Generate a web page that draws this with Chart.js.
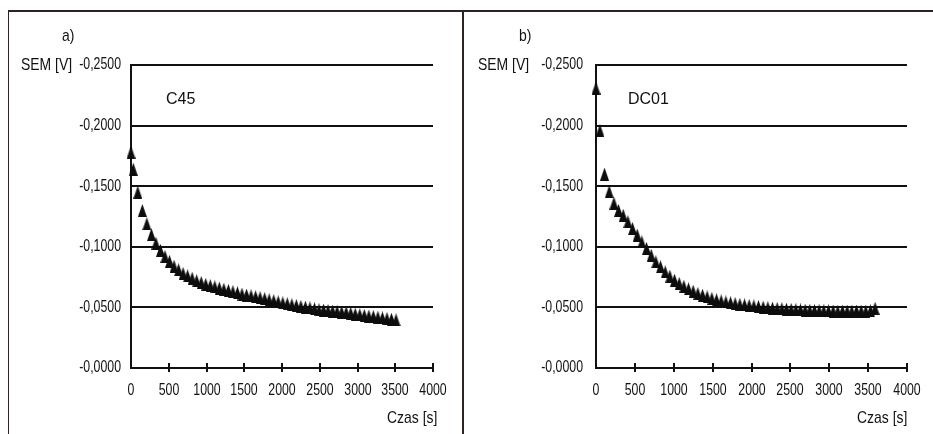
<!DOCTYPE html>
<html>
<head>
<meta charset="utf-8">
<script src="https://cdn.jsdelivr.net/npm/chart.js@4/dist/chart.umd.min.js"></script>
<style>
  html, body { margin: 0; padding: 0; background: #fff; }
  #page { position: relative; width: 933px; height: 434px; overflow: hidden; background: #fff; }
  canvas { position: absolute; top: 0; }
  .rule { position: absolute; background: #2e2320; }
  /* Arial Narrow look: squeeze Liberation Sans */
  .lbl { position: absolute; color: #111; line-height: 1; white-space: nowrap;
         font-family: 'Liberation Sans', Arial, sans-serif; font-size: 17px;
         transform: translateY(-50%) scaleX(0.82); transform-origin: left center; }
  .lbl.r { transform-origin: right center; }
  .name { font-size: 16px; transform: translateY(-50%); }
</style>
</head>
<body>
<div id="page">
  <div class="rule" style="left:8px; top:10px; width:925px; height:2px;"></div>
  <div class="rule" style="left:8px; top:10px; width:1px; height:424px;"></div>
  <div class="rule" style="left:462px; top:10px; width:2px; height:424px;"></div>

  <canvas id="chartA" width="461" height="434" style="left:0px;"></canvas>
  <canvas id="chartB" width="467" height="434" style="left:466px;"></canvas>

  <div class="lbl" style="left:62px; top:35px;">a)</div>
  <div class="lbl" style="left:21px; top:64px;">SEM [V]</div>
  <div class="lbl name" style="left:166px; top:99px;">C45</div>
  <div class="lbl r" style="right:496px; top:417px;">Czas [s]</div>

  <div class="lbl" style="left:519px; top:35px;">b)</div>
  <div class="lbl" style="left:478px; top:64px;">SEM [V]</div>
  <div class="lbl name" style="left:628px; top:99px;">DC01</div>
  <div class="lbl r" style="right:26px; top:417px;">Czas [s]</div>
</div>

<script>
// a) C45 - time [s] and SEM [V]
const c45Time = [0, 30, 90, 150, 210, 270, 330, 390, 450, 510, 570, 630, 690, 750, 810, 870,
  930, 990, 1050, 1110, 1170, 1230, 1290, 1350, 1410, 1470, 1530, 1590, 1650, 1710, 1770,
  1830, 1890, 1950, 2010, 2070, 2130, 2190, 2250, 2310, 2370, 2430, 2490, 2550, 2610, 2670,
  2730, 2790, 2850, 2910, 2970, 3030, 3090, 3150, 3210, 3270, 3330, 3390, 3450, 3510];
const c45Sem = [-0.178, -0.164, -0.145, -0.130, -0.119, -0.110, -0.103, -0.097, -0.092, -0.088,
  -0.084, -0.081, -0.078, -0.076, -0.074, -0.072, -0.0705, -0.069, -0.068, -0.067, -0.066,
  -0.065, -0.064, -0.063, -0.062, -0.061, -0.0602, -0.0595, -0.0587, -0.058, -0.0572, -0.0563,
  -0.0555, -0.0546, -0.0537, -0.053, -0.0522, -0.0515, -0.0508, -0.0502, -0.0496, -0.0488,
  -0.0481, -0.0478, -0.0474, -0.047, -0.0466, -0.0462, -0.0458, -0.0452, -0.0445, -0.0439,
  -0.0434, -0.0429, -0.0424, -0.0419, -0.0413, -0.0408, -0.0402, -0.0397];

// b) DC01
const dc01Time = [0, 50, 110, 170, 230, 290, 350, 410, 470, 530, 590, 650, 710, 770, 830, 890,
  950, 1010, 1070, 1130, 1190, 1250, 1310, 1370, 1430, 1490, 1550, 1610, 1670, 1730, 1790,
  1850, 1910, 1970, 2030, 2090, 2150, 2210, 2270, 2330, 2390, 2450, 2510, 2570, 2630, 2690,
  2750, 2810, 2870, 2930, 2990, 3050, 3110, 3170, 3230, 3290, 3350, 3410, 3470, 3530, 3590];
const dc01Sem = [-0.231, -0.196, -0.160, -0.1455, -0.136, -0.130, -0.126, -0.1207, -0.115,
  -0.1097, -0.104, -0.0987, -0.093, -0.0876, -0.0835, -0.0793, -0.0758, -0.0725, -0.0698,
  -0.0675, -0.0653, -0.0634, -0.0615, -0.0601, -0.0587, -0.0574, -0.0562, -0.0553, -0.0545,
  -0.0538, -0.0531, -0.0525, -0.052, -0.0516, -0.0512, -0.0507, -0.0502, -0.0498, -0.0494,
  -0.0491, -0.0488, -0.0485, -0.0483, -0.0481, -0.0479, -0.0477, -0.0476, -0.0474, -0.0473,
  -0.0472, -0.0471, -0.047, -0.0468, -0.047, -0.047, -0.0469, -0.047, -0.047, -0.0469,
  -0.0472, -0.0492];

const INK = '#111';
const FONT = '16px "Liberation Sans", Arial, sans-serif';
const SQUEEZE = 0.77;

// tall narrow filled triangle used as point marker
function triangle(w, h) {
  const c = document.createElement('canvas');
  c.width = w;
  c.height = h;
  const g = c.getContext('2d');
  g.fillStyle = '#0d0d0d';
  g.beginPath();
  g.moveTo(w / 2, 0);
  g.lineTo(w, h);
  g.lineTo(0, h);
  g.closePath();
  g.fill();
  return c;
}
const marker = triangle(9, 13);

const semLabel = v => (v < 1e-9 ? '-' : '') + Math.abs(v).toFixed(4).replace('.', ',');

function squeezed(ctx, text, x, y, align) {
  ctx.save();
  ctx.translate(x, y);
  ctx.scale(SQUEEZE, 1);
  ctx.textAlign = align;
  ctx.fillText(text, 0, 0);
  ctx.restore();
}

// tick labels in a narrow face, plus short tick marks crossing the time axis
const axisDecor = {
  id: 'axisDecor',
  afterDraw(chart, args, opts) {
    const xs = chart.scales.x;
    const ys = chart.scales.y;
    const y0 = chart.chartArea.bottom;
    const ctx = chart.ctx;
    ctx.save();
    ctx.strokeStyle = INK;
    ctx.fillStyle = INK;
    ctx.lineWidth = 2;
    ctx.font = FONT;
    ctx.textBaseline = 'middle';
    xs.ticks.forEach(t => {
      const px = Math.round(xs.getPixelForValue(t.value));
      if (t.value !== 0) {
        ctx.beginPath();
        ctx.moveTo(px, y0 - 5);
        ctx.lineTo(px, y0 + 4);
        ctx.stroke();
      }
      squeezed(ctx, String(t.value), px, y0 + 23, 'center');
    });
    ys.ticks.forEach(t => {
      squeezed(ctx, semLabel(t.value), ys.right - opts.gap, ys.getPixelForValue(t.value), 'right');
    });
    ctx.restore();
  }
};

function makeChart(id, times, sem, axisLeft, axisRight, labelGap) {
  const canvas = document.getElementById(id);
  return new Chart(canvas, {
    type: 'scatter',
    data: {
      datasets: [{
        data: times.map((t, i) => ({ x: t, y: sem[i] })),
        pointStyle: marker,
        pointRadius: 5,
        showLine: false,
        clip: false
      }]
    },
    options: {
      responsive: false,
      devicePixelRatio: 1,
      animation: false,
      events: [],
      layout: { padding: { top: 65, right: canvas.width - axisRight, bottom: 0, left: 0 } },
      plugins: {
        legend: { display: false },
        tooltip: { enabled: false },
        axisDecor: { gap: labelGap }
      },
      scales: {
        x: {
          type: 'linear',
          min: 0,
          max: 4000,
          grid: { display: false },
          border: { display: true, color: INK, width: 2 },
          ticks: { stepSize: 500, display: false },
          afterFit: s => { s.height = 434 - 368; }
        },
        y: {
          type: 'linear',
          min: -0.25,
          max: 0,
          reverse: true,
          grid: { color: INK, lineWidth: 2, drawTicks: false },
          border: { display: true, color: INK, width: 2 },
          ticks: { stepSize: 0.05, display: false },
          afterFit: s => { s.width = axisLeft; }
        }
      }
    },
    plugins: [axisDecor]
  });
}

makeChart('chartA', c45Time, c45Sem, 131, 433, 10);
makeChart('chartB', dc01Time, dc01Sem, 130, 441, 13);
</script>
</body>
</html>
